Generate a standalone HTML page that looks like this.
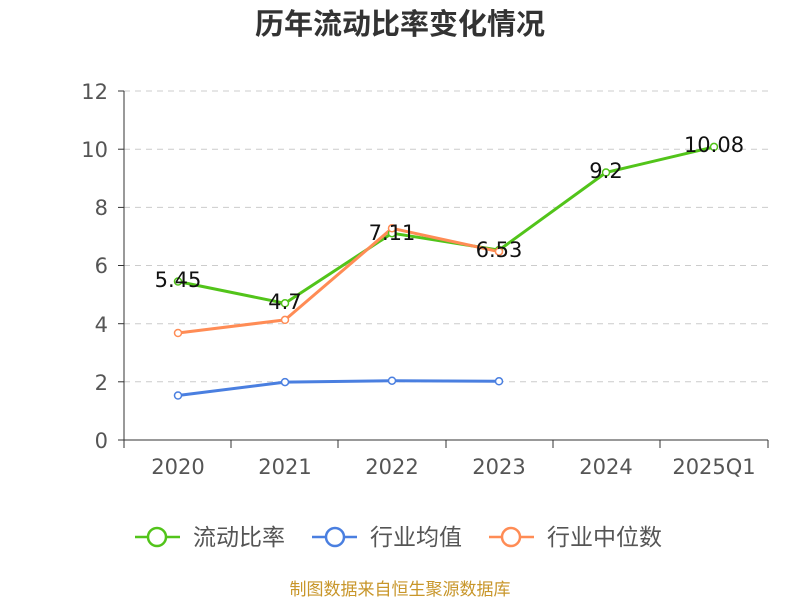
<!DOCTYPE html>
<html><head><meta charset="utf-8"><style>
body{margin:0;background:#fff;}
svg{display:block;font-family:"DejaVu Sans","Noto Sans CJK SC",sans-serif;}
</style></head><body>
<svg width="800" height="600" viewBox="0 0 800 600" xmlns="http://www.w3.org/2000/svg">
<rect width="800" height="600" fill="#fff"/>
<text x="400" y="34" text-anchor="middle" font-size="29" font-weight="bold" fill="#333" font-family="Noto Sans CJK SC, sans-serif">历年流动比率变化情况</text>
<g stroke="#ccc" stroke-dasharray="6,5" stroke-width="1">
<line x1="124" x2="768" y1="381.8" y2="381.8"/>
<line x1="124" x2="768" y1="323.7" y2="323.7"/>
<line x1="124" x2="768" y1="265.5" y2="265.5"/>
<line x1="124" x2="768" y1="207.4" y2="207.4"/>
<line x1="124" x2="768" y1="149.2" y2="149.2"/>
<line x1="124" x2="768" y1="91" y2="91"/>
</g>
<g stroke="#333" stroke-width="1">
<line x1="124" x2="124" y1="91" y2="440"/>
<line x1="124" x2="768" y1="440" y2="440"/>
<line x1="118" x2="124" y1="440" y2="440"/><line x1="118" x2="124" y1="381.8" y2="381.8"/>
<line x1="118" x2="124" y1="323.7" y2="323.7"/><line x1="118" x2="124" y1="265.5" y2="265.5"/>
<line x1="118" x2="124" y1="207.4" y2="207.4"/><line x1="118" x2="124" y1="149.2" y2="149.2"/>
<line x1="118" x2="124" y1="91" y2="91"/>
<line x1="124" x2="124" y1="440" y2="448"/><line x1="231" x2="231" y1="440" y2="448"/>
<line x1="338" x2="338" y1="440" y2="448"/><line x1="446" x2="446" y1="440" y2="448"/>
<line x1="553" x2="553" y1="440" y2="448"/><line x1="660" x2="660" y1="440" y2="448"/>
<line x1="768" x2="768" y1="440" y2="448"/>
</g>
<g font-size="21" fill="#555" text-anchor="end">
<text x="108" y="448">0</text><text x="108" y="390">2</text><text x="108" y="332">4</text>
<text x="108" y="273">6</text><text x="108" y="215">8</text><text x="108" y="157">10</text>
<text x="108" y="99">12</text>
</g>
<g font-size="21" fill="#555" text-anchor="middle">
<text x="178" y="474">2020</text><text x="285" y="474">2021</text><text x="392" y="474">2022</text>
<text x="499" y="474">2023</text><text x="606" y="474">2024</text><text x="714" y="474">2025Q1</text>
</g>
<g fill="none" stroke-width="3" stroke-linejoin="round">
<polyline stroke="#52c41a" points="178,281.5 285,303.3 392,233.2 499,250.1 606,172.5 714,146.9"/>
<polyline stroke="#4a7fe0" points="178,395.5 285,382.1 392,380.7 499,381.3"/>
<polyline stroke="#ff8c55" points="178,333 285,319.9 392,228.3 499,251.6"/>
</g>
<g fill="#fff" stroke-width="1.5">
<g stroke="#52c41a"><circle cx="178" cy="281.5" r="3.5"/><circle cx="285" cy="303.3" r="3.5"/><circle cx="392" cy="233.2" r="3.5"/><circle cx="499" cy="250.1" r="3.5"/><circle cx="606" cy="172.5" r="3.5"/><circle cx="714" cy="146.9" r="3.5"/></g>
<g stroke="#4a7fe0"><circle cx="178" cy="395.5" r="3.5"/><circle cx="285" cy="382.1" r="3.5"/><circle cx="392" cy="380.7" r="3.5"/><circle cx="499" cy="381.3" r="3.5"/></g>
<g stroke="#ff8c55"><circle cx="178" cy="333" r="3.5"/><circle cx="285" cy="319.9" r="3.5"/><circle cx="392" cy="228.3" r="3.5"/><circle cx="499" cy="251.6" r="3.5"/></g>
</g>
<g font-size="21" fill="#111" text-anchor="middle">
<text x="178" y="287">5.45</text><text x="285" y="309">4.7</text><text x="392" y="240">7.11</text>
<text x="499" y="257">6.53</text><text x="606" y="178">9.2</text><text x="714" y="152">10.08</text>
</g>
<g stroke-width="2.5" fill="#fff">
<line x1="135" x2="180" y1="537" y2="537" stroke="#52c41a"/><circle cx="157" cy="537" r="9" stroke="#52c41a"/>
<line x1="312" x2="357" y1="537" y2="537" stroke="#4a7fe0"/><circle cx="335" cy="537" r="9" stroke="#4a7fe0"/>
<line x1="489" x2="534" y1="537" y2="537" stroke="#ff8c55"/><circle cx="511" cy="537" r="9" stroke="#ff8c55"/>
</g>
<g font-size="23" fill="#555" font-family="Noto Sans CJK SC, sans-serif">
<text x="193" y="545">流动比率</text><text x="370" y="545">行业均值</text><text x="547" y="545">行业中位数</text>
</g>
<text x="400" y="595" text-anchor="middle" font-size="17" fill="#c8962a" font-family="Noto Sans CJK SC, sans-serif">制图数据来自恒生聚源数据库</text>
</svg>
</body></html>
